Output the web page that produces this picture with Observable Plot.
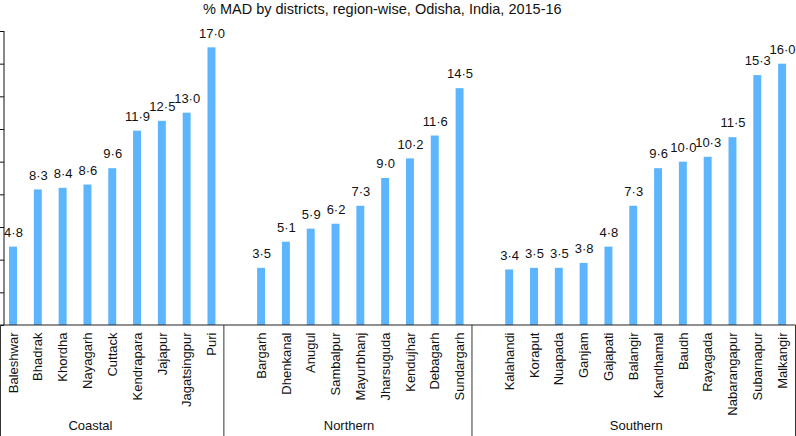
<!DOCTYPE html>
<html>
<head>
<meta charset="utf-8">
<script src="https://cdn.jsdelivr.net/npm/d3@7"></script>
<script src="https://cdn.jsdelivr.net/npm/@observablehq/plot@0.6"></script>
<style>
  body { margin: 0; background: white; }
  #wrap { position: relative; width: 796px; height: 436px; font-family: "Liberation Sans", Arial, sans-serif; }
  #title { position: absolute; left: 203px; top: 1px; font-size: 14.5px; color: #111; white-space: nowrap; }
</style>
</head>
<body>
<div id="wrap"><div id="title">% MAD by districts, region-wise, Odisha, India, 2015-16</div></div>
<script>
const coastal = ["Baleshwar","Bhadrak","Khordha","Nayagarh","Cuttack","Kendrapara","Jajapur","Jagatsingpur","Puri"];
const coastalValues = [4.8, 8.3, 8.4, 8.6, 9.6, 11.9, 12.5, 13.0, 17.0];
const northern = ["Bargarh","Dhenkanal","Anugul","Sambalpur","Mayurbhanj","Jharsuguda","Kendujhar","Debagarh","Sundargarh"];
const northernValues = [3.5, 5.1, 5.9, 6.2, 7.3, 9.0, 10.2, 11.6, 14.5];
const southern = ["Kalahandi","Koraput","Nuapada","Ganjam","Gajapati","Balangir","Kandhamal","Baudh","Rayagada","Nabarangapur","Subarnapur","Malkangir"];
const southernValues = [3.4, 3.5, 3.5, 3.8, 4.8, 7.3, 9.6, 10.0, 10.3, 11.5, 15.3, 16.0];
const regionNames = ["Coastal", "Northern", "Southern"];
const yTicks = [0, 2, 4, 6, 8, 10, 12, 14, 16, 18];

const spacer1 = " ", spacer2 = "  ";
const domain = [...coastal, spacer1, ...northern, spacer2, ...southern];
const districts = [...coastal, ...northern, ...southern];
const data = [
  ...coastal.map((d, i) => ({district: d, value: coastalValues[i]})),
  ...northern.map((d, i) => ({district: d, value: northernValues[i]})),
  ...southern.map((d, i) => ({district: d, value: southernValues[i]}))
];
const fmt = v => d3.format(".1f")(v).replace(".", "\u00b7");
const PI = 0.68;

function decor(index, scales, values, dimensions) {
  const {width, height, marginLeft} = dimensions;
  const x = scales.x, y = scales.y;
  const step = x(domain[1]) - x(domain[0]);
  const bw = step * (1 - PI);
  const boundary = key => x(key) + bw / 2 - step / 2;
  const g = d3.create("svg:g").attr("fill", "none");
  const y0 = y(0);
  g.append("line").attr("x1", marginLeft).attr("x2", marginLeft)
    .attr("y1", y(yTicks[yTicks.length - 1])).attr("y2", y0).attr("stroke", "#111");
  g.append("line").attr("x1", 0).attr("x2", width - 0.5).attr("y1", y0).attr("y2", y0).attr("stroke", "#222");
  const xs = [0.5, boundary(spacer1), boundary(spacer2), width - 0.5];
  for (const xv of xs) {
    g.append("line").attr("x1", xv).attr("x2", xv).attr("y1", y0).attr("y2", height).attr("stroke", "#333");
  }
  return g.node();
}

const groupMarks = [
  {name: regionNames[0], at: coastal[3], dx: 2.5},
  {name: regionNames[1], at: northern[3], dx: 13},
  {name: regionNames[2], at: southern[5], dx: 2.5}
].map(gm => Plot.text([gm], {
  x: "at", text: "name", frameAnchor: "bottom", dx: gm.dx, dy: 100,
  lineAnchor: "middle", fontSize: 13, fill: "#111"
}));

const chart = Plot.plot({
  width: 796,
  height: 436,
  marginLeft: 4,
  marginRight: 4.9,
  marginTop: 31,
  marginBottom: 111,
  style: {fontFamily: '"Liberation Sans", Arial, sans-serif', fontSize: "13px", background: "white", color: "#111"},
  x: {domain, paddingInner: PI, paddingOuter: 0.2028, align: 0.5, round: false, axis: null},
  y: {domain: [0, 18], axis: null},
  marks: [
    Plot.barY(data, {x: "district", y: "value", fill: "#5db5fd"}),
    Plot.text(data, {x: "district", y: "value", text: d => fmt(d.value), dy: -14.5, lineAnchor: "middle", fontSize: 13, fill: "#111"}),
    Plot.text(districts, {x: d => d, text: d => d, frameAnchor: "bottom", rotate: -90, textAnchor: "end", lineAnchor: "middle", dy: 7, fontSize: 13, fill: "#111"}),
    Plot.axisY({ticks: yTicks, tickSize: 4, tickFormat: () => "", stroke: "#111", label: null}),
    decor,
    ...groupMarks
  ]
});
document.getElementById("wrap").appendChild(chart);
</script>
</body>
</html>
